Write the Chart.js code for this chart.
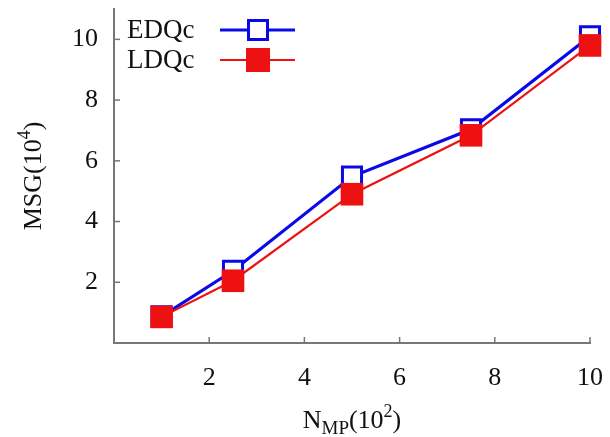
<!DOCTYPE html>
<html>
<head>
<meta charset="utf-8">
<script src="https://cdn.jsdelivr.net/npm/chart.js@4/dist/chart.umd.min.js"></script>
<style>
  html, body { margin: 0; padding: 0; background: #fff; }
  #wrap { width: 610px; height: 437px; }
</style>
</head>
<body>
<div id="wrap"><canvas id="myChart"></canvas></div>
<script>
// N_MP values (x 10^2) and MSG counts (x 10^4)
const nmp = [1, 2.5, 5, 7.5, 10];
const edqc = [0.88, 2.38, 5.48, 7.04, 10.1];
const ldqc = [0.86, 2.05, 4.9, 6.84, 9.8];
const seriesNames = ['EDQc', 'LDQc'];
const xTicks = [2, 4, 6, 8, 10];
const yTicks = [2, 4, 6, 8, 10];

const FONT = '"Liberation Serif", "Times New Roman", serif';
const GRAY = '#777777';
const BLUE = '#0a0ae6';
const RED = '#ee1111';

function toPoints(xs, ys) {
    return xs.map((x, i) => ({ x: x, y: ys[i] }))
}

function drawSquare(ctx, x, y, side, filled, color, lw) {
    ctx.beginPath()
    ctx.rect(x - side / 2, y - side / 2, side, side)
    if (filled) {
        ctx.fillStyle = color
        ctx.fill()
    } else {
        ctx.lineWidth = lw
        ctx.strokeStyle = color
        ctx.fillStyle = '#fff'
        ctx.fill()
        ctx.stroke()
    }
}

// small tick marks pointing into the plot
const innerTicks = {
    id: 'innerTicks',
    beforeDatasetsDraw(chart) {
        const { ctx, chartArea, scales } = chart
        ctx.save()
        ctx.strokeStyle = GRAY
        ctx.lineWidth = 1.5
        xTicks.forEach(v => {
            const px = scales.x.getPixelForValue(v)
            ctx.beginPath()
            ctx.moveTo(px, chartArea.bottom)
            ctx.lineTo(px, chartArea.bottom - 6)
            ctx.stroke()
        })
        yTicks.forEach(v => {
            const py = scales.y.getPixelForValue(v)
            ctx.beginPath()
            ctx.moveTo(chartArea.left, py)
            ctx.lineTo(chartArea.left + 6, py)
            ctx.stroke()
        })
        ctx.restore()
    }
}

// text first, then line sample with marker
const sideLegend = {
    id: 'sideLegend',
    afterDatasetsDraw(chart) {
        const ctx = chart.ctx
        const rows = [30, 60]
        ctx.save()
        chart.data.datasets.forEach((ds, i) => {
            const y = rows[i]
            ctx.font = '27px ' + FONT
            ctx.fillStyle = '#111'
            ctx.textBaseline = 'middle'
            ctx.textAlign = 'left'
            ctx.fillText(ds.label, 127, y + 1)
            ctx.beginPath()
            ctx.moveTo(220, y)
            ctx.lineTo(295, y)
            ctx.lineWidth = ds.borderWidth
            ctx.strokeStyle = ds.borderColor
            ctx.stroke()
            const filled = ds.pointBackgroundColor !== '#ffffff'
            drawSquare(ctx, 258, y, filled ? 24 : 19, filled, ds.borderColor, 3)
        })
        ctx.restore()
    }
}

// draws a run of text pieces with sub/superscripts
function drawRich(ctx, parts, x, y) {
    let total = 0
    parts.forEach(p => {
        ctx.font = p.size + 'px ' + FONT
        p.w = ctx.measureText(p.t).width
        total += p.w
    })
    let cx = x - total / 2
    parts.forEach(p => {
        ctx.font = p.size + 'px ' + FONT
        ctx.fillText(p.t, cx, y + p.dy)
        cx += p.w
    })
}

const axisTitles = {
    id: 'axisTitles',
    afterDraw(chart) {
        const { ctx, chartArea } = chart
        ctx.save()
        ctx.fillStyle = '#111'
        ctx.textBaseline = 'alphabetic'
        ctx.textAlign = 'left'
        const midX = (chartArea.left + chartArea.right) / 2
        drawRich(ctx, [
            { t: 'N', size: 26, dy: 0 },
            { t: 'MP', size: 19, dy: 6 },
            { t: '(10', size: 26, dy: 0 },
            { t: '2', size: 18, dy: -11 },
            { t: ')', size: 26, dy: 0 }
        ], midX, 428)
        ctx.translate(41, (chartArea.top + chartArea.bottom) / 2)
        ctx.rotate(-Math.PI / 2)
        drawRich(ctx, [
            { t: 'MSG(10', size: 26, dy: 0 },
            { t: '4', size: 18, dy: -11 },
            { t: ')', size: 26, dy: 0 }
        ], 0, 0)
        ctx.restore()
    }
}

function drawChart() {
    const ctx = document.getElementById('myChart').getContext('2d')

    const myChart = new Chart(ctx, {
        type: 'line',
        data: {
            datasets: [{
                label: seriesNames[0],
                data: toPoints(nmp, edqc),
                borderColor: BLUE,
                borderWidth: 3.2,
                pointStyle: 'rect',
                pointRadius: 13.5,
                pointBorderWidth: 3,
                pointBackgroundColor: '#ffffff',
                pointBorderColor: BLUE,
                clip: false,
                order: 1
            }, {
                label: seriesNames[1],
                data: toPoints(nmp, ldqc),
                borderColor: RED,
                borderWidth: 2.2,
                pointStyle: 'rect',
                pointRadius: 16,
                pointBorderWidth: 0,
                pointBackgroundColor: RED,
                pointBorderColor: RED,
                clip: false,
                order: 0
            }]
        },
        options: {
            responsive: true,
            maintainAspectRatio: false,
            animation: false,
            layout: {
                autoPadding: false,
                padding: { left: 0, top: 9, right: 20, bottom: 0 }
            },
            plugins: {
                legend: { display: false },
                tooltip: { enabled: false }
            },
            scales: {
                x: {
                    type: 'linear',
                    min: 0,
                    max: 10,
                    afterBuildTicks: scale => { scale.ticks = xTicks.map(v => ({ value: v })) },
                    afterFit: scale => {
                        scale.height = 94
                        scale.paddingLeft = 0
                        scale.paddingRight = 0
                    },
                    grid: { drawOnChartArea: false, drawTicks: false },
                    border: { color: GRAY, width: 2 },
                    ticks: {
                        padding: 20,
                        maxRotation: 0,
                        color: '#111',
                        font: { family: FONT, size: 26 }
                    }
                },
                y: {
                    min: 0,
                    max: 11,
                    afterBuildTicks: scale => { scale.ticks = yTicks.map(v => ({ value: v })) },
                    afterFit: scale => {
                        scale.width = 114
                        scale.paddingTop = 0
                        scale.paddingBottom = 0
                    },
                    grid: { drawOnChartArea: false, drawTicks: false },
                    border: { color: GRAY, width: 2 },
                    ticks: {
                        padding: 16,
                        color: '#111',
                        font: { family: FONT, size: 26 }
                    }
                }
            }
        },
        plugins: [innerTicks, sideLegend, axisTitles]
    })
}

window.onload = () => {
    drawChart()
}
</script>
</body>
</html>
